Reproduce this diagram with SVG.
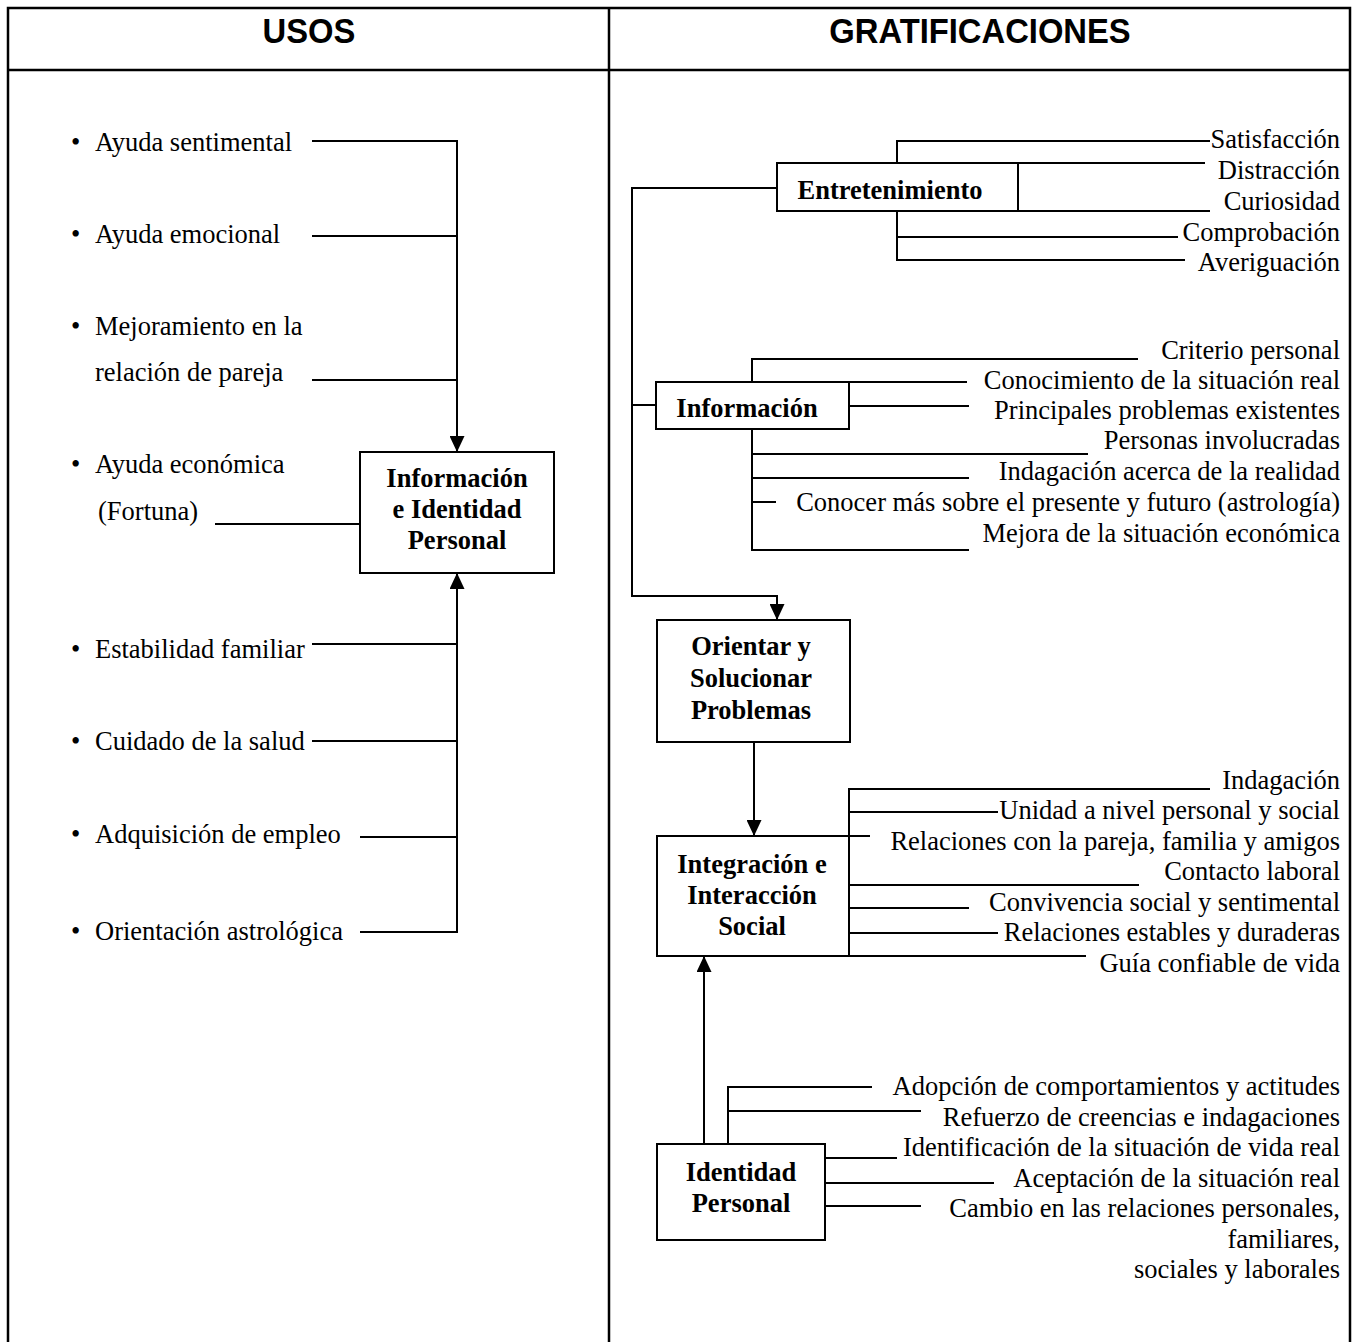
<svg xmlns="http://www.w3.org/2000/svg" width="1358" height="1342" viewBox="0 0 1358 1342">
<style>
.t{font-family:"Liberation Serif","Times New Roman",serif;font-size:26.5px;fill:#000}
.r{text-anchor:end}
.b{font-weight:bold;text-anchor:middle}
.h{font-family:"Liberation Sans",Arial,sans-serif;font-weight:bold;font-size:36px;text-anchor:middle;fill:#000}
.ln{stroke:#000;stroke-width:2;fill:none}
.fr{stroke:#000;stroke-width:2.5;fill:none}
.box{fill:#fff;stroke:#000;stroke-width:2}
</style>
<defs>
<marker id="arr" markerUnits="userSpaceOnUse" markerWidth="16" markerHeight="15" refX="16" refY="7.5" orient="auto">
<path d="M0,0 L16,7.5 L0,15 z" fill="#000"/>
</marker>
</defs>
<rect width="1358" height="1342" fill="#fff"/>
<g id="frame">
<path class="fr" d="M8,1342 V8 H1350 V1342"/>
<line class="fr" x1="8" y1="70" x2="1350" y2="70"/>
<line class="fr" x1="609" y1="8" x2="609" y2="1342"/>
<text class="h" transform="translate(309,43) scale(0.91,1)">USOS</text>
<text class="h" transform="translate(980,43) scale(0.91,1)">GRATIFICACIONES</text>
</g>
<g id="connectors">
<!-- left -->
<path class="ln" d="M312,141 H457 V452" marker-end="url(#arr)"/>
<line class="ln" x1="312" y1="236" x2="457" y2="236"/>
<line class="ln" x1="312" y1="380" x2="457" y2="380"/>
<line class="ln" x1="215" y1="524" x2="360" y2="524"/>
<path class="ln" d="M360,932 H457 V573" marker-end="url(#arr)"/>
<line class="ln" x1="312" y1="644" x2="457" y2="644"/>
<line class="ln" x1="312" y1="741" x2="457" y2="741"/>
<line class="ln" x1="360" y1="837" x2="457" y2="837"/>
<!-- right: main flow -->
<path class="ln" d="M777,188 H632 V596 H777 V620" marker-end="url(#arr)"/>
<line class="ln" x1="632" y1="405" x2="656" y2="405"/>
<line class="ln" x1="754" y1="742" x2="754" y2="836" marker-end="url(#arr)"/>
<line class="ln" x1="704" y1="1144" x2="704" y2="956" marker-end="url(#arr)"/>
<!-- Entretenimiento -->
<path class="ln" d="M897,163 V141 H1210"/>
<line class="ln" x1="1018" y1="163" x2="1205" y2="163"/>
<line class="ln" x1="1018" y1="211" x2="1210" y2="211"/>
<path class="ln" d="M897,211 V260 H1185"/>
<line class="ln" x1="897" y1="237" x2="1178" y2="237"/>
<!-- Informacion -->
<path class="ln" d="M752,382 V359 H1138"/>
<line class="ln" x1="849" y1="382" x2="967" y2="382"/>
<line class="ln" x1="849" y1="406" x2="969" y2="406"/>
<path class="ln" d="M752,429 V550 H969"/>
<line class="ln" x1="752" y1="454" x2="1088" y2="454"/>
<line class="ln" x1="752" y1="478" x2="969" y2="478"/>
<line class="ln" x1="752" y1="502" x2="776" y2="502"/>
<!-- Integracion -->
<path class="ln" d="M849,836 V789 H1210"/>
<line class="ln" x1="849" y1="812" x2="998" y2="812"/>
<line class="ln" x1="849" y1="836" x2="870" y2="836"/>
<line class="ln" x1="849" y1="885" x2="1139" y2="885"/>
<line class="ln" x1="849" y1="908" x2="969" y2="908"/>
<line class="ln" x1="849" y1="933" x2="998" y2="933"/>
<line class="ln" x1="849" y1="956" x2="1086" y2="956"/>
<!-- Identidad -->
<path class="ln" d="M728,1144 V1087 H872"/>
<line class="ln" x1="728" y1="1111" x2="921" y2="1111"/>
<line class="ln" x1="825" y1="1158" x2="897" y2="1158"/>
<line class="ln" x1="825" y1="1183" x2="994" y2="1183"/>
<line class="ln" x1="825" y1="1206" x2="921" y2="1206"/>
</g>
<g id="usos-items" class="t">
<text x="71" y="151">•</text><text x="95" y="151">Ayuda sentimental</text>
<text x="71" y="243">•</text><text x="95" y="243">Ayuda emocional</text>
<text x="71" y="335">•</text><text x="95" y="335">Mejoramiento en la</text>
<text x="95" y="381">relación de pareja</text>
<text x="71" y="473">•</text><text x="95" y="473">Ayuda económica</text>
<text x="98" y="520">(Fortuna)</text>
<text x="71" y="658">•</text><text x="95" y="658">Estabilidad familiar</text>
<text x="71" y="750">•</text><text x="95" y="750">Cuidado de la salud</text>
<text x="71" y="843">•</text><text x="95" y="843">Adquisición de empleo</text>
<text x="71" y="940">•</text><text x="95" y="940">Orientación astrológica</text>
</g>
<g id="node-info-identidad">
<rect class="box" x="360" y="452" width="194" height="121"/>
<text class="t b" x="457" y="487">Información</text>
<text class="t b" x="457" y="518">e Identidad</text>
<text class="t b" x="457" y="549">Personal</text>
</g>
<g id="node-entretenimiento">
<rect class="box" x="777" y="163" width="241" height="48"/>
<text class="t b" x="890" y="199">Entretenimiento</text>
</g>
<g id="entretenimiento-items" class="t r">
<text x="1340" y="148">Satisfacción</text>
<text x="1340" y="179">Distracción</text>
<text x="1340" y="210">Curiosidad</text>
<text x="1340" y="241">Comprobación</text>
<text x="1340" y="271">Averiguación</text>
</g>
<g id="node-informacion">
<rect class="box" x="656" y="382" width="193" height="47"/>
<text class="t b" x="747" y="417">Información</text>
</g>
<g id="informacion-items" class="t r">
<text x="1340" y="359">Criterio personal</text>
<text x="1340" y="389">Conocimiento de la situación real</text>
<text x="1340" y="419">Principales problemas existentes</text>
<text x="1340" y="449">Personas involucradas</text>
<text x="1340" y="480">Indagación acerca de la realidad</text>
<text x="1340" y="511">Conocer más sobre el presente y futuro (astrología)</text>
<text x="1340" y="542">Mejora de la situación económica</text>
</g>
<g id="node-orientar">
<rect class="box" x="657" y="620" width="193" height="122"/>
<text class="t b" x="751" y="655">Orientar y</text>
<text class="t b" x="751" y="687">Solucionar</text>
<text class="t b" x="751" y="719">Problemas</text>
</g>
<g id="node-integracion">
<rect class="box" x="657" y="836" width="192" height="120"/>
<text class="t b" x="752" y="873">Integración e</text>
<text class="t b" x="752" y="904">Interacción</text>
<text class="t b" x="752" y="935">Social</text>
</g>
<g id="integracion-items" class="t r">
<text x="1340" y="789">Indagación</text>
<text x="1340" y="819">Unidad a nivel personal y social</text>
<text x="1340" y="850">Relaciones con la pareja, familia y amigos</text>
<text x="1340" y="880">Contacto laboral</text>
<text x="1340" y="911">Convivencia social y sentimental</text>
<text x="1340" y="941">Relaciones estables y duraderas</text>
<text x="1340" y="972">Guía confiable de vida</text>
</g>
<g id="node-identidad">
<rect class="box" x="657" y="1144" width="168" height="96"/>
<text class="t b" x="741" y="1181">Identidad</text>
<text class="t b" x="741" y="1212">Personal</text>
</g>
<g id="identidad-items" class="t r">
<text x="1340" y="1095">Adopción de comportamientos y actitudes</text>
<text x="1340" y="1126">Refuerzo de creencias e indagaciones</text>
<text x="1340" y="1156">Identificación de la situación de vida real</text>
<text x="1340" y="1187">Aceptación de la situación real</text>
<text x="1340" y="1217">Cambio en las relaciones personales,</text>
<text x="1340" y="1248">familiares,</text>
<text x="1340" y="1278">sociales y laborales</text>
</g>
</svg>
